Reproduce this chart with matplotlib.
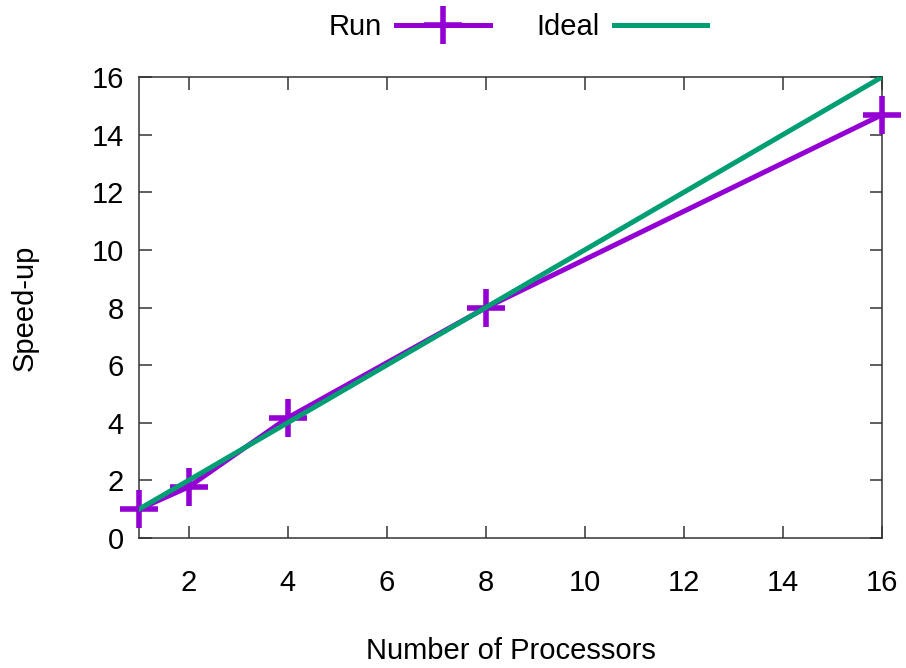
import matplotlib
matplotlib.use('Agg')
from matplotlib import pyplot as plt

plt.rcParams['font.family'] = ['Liberation Sans', 'DejaVu Sans']

processors = [1, 2, 4, 8, 16]
run_speedup = [1.0, 1.77, 4.17, 7.99, 14.69]
ideal_speedup = [1, 2, 4, 8, 16]

x_ticks = [2, 4, 6, 8, 10, 12, 14, 16]
y_ticks = [0, 2, 4, 6, 8, 10, 12, 14, 16]

purple = '#9400d3'
green = '#009e73'
fs = 21

fig = plt.figure(figsize=(9.06, 6.68), dpi=100)
ax = fig.add_axes([0.1534, 0.1946, 0.8201, 0.6901])

ax.plot(processors, run_speedup, color=purple, lw=3.6, marker='+', ms=28, mew=4,
        label='Run', clip_on=False, zorder=3)
ax.plot(processors, ideal_speedup, color=green, lw=3.6, label='Ideal', zorder=4)

ax.set_xlim(1, 16)
ax.set_ylim(0, 16)
ax.set_xticks(x_ticks)
ax.set_yticks(y_ticks)

for side in ax.spines.values():
    side.set_linewidth(1.1)
    side.set_color('#333333')

ax.tick_params(axis='both', direction='in', length=9, width=1.1, color='#333333',
               labelsize=fs, top=True, right=True)
ax.tick_params(axis='x', pad=22)
ax.tick_params(axis='y', pad=11)

ax.set_xlabel('Number of Processors', fontsize=fs, labelpad=29)
ax.set_ylabel('Speed-up', fontsize=fs, labelpad=38)

ax.legend(loc='center', bbox_to_anchor=(0.51, 1.108), ncol=2, frameon=False,
          markerfirst=False, fontsize=fs, handlelength=3.2, columnspacing=1.6,
          handletextpad=0.5)

fig.savefig('out.png', dpi=100)
